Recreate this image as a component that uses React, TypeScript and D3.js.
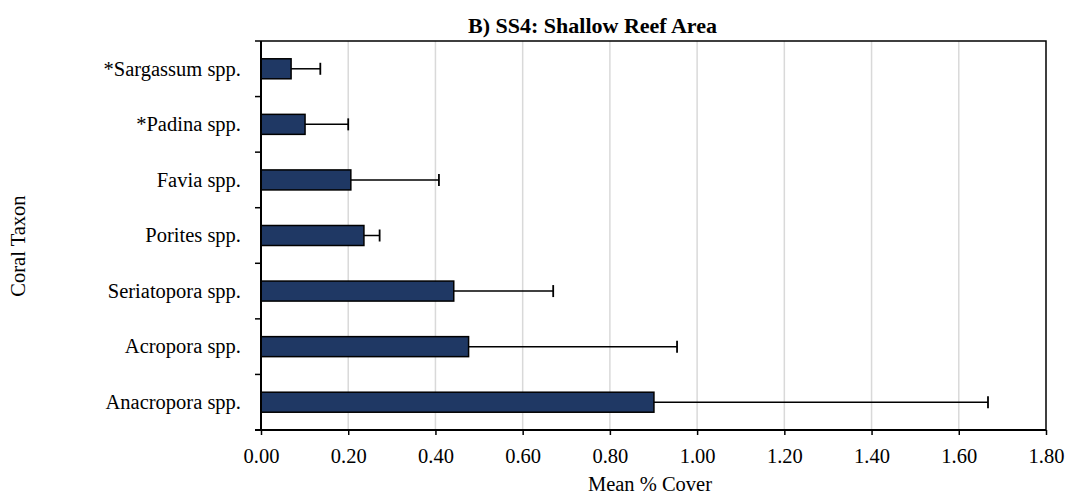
import React, { useEffect, useRef } from "react";
import * as d3 from "d3";

// bottom to top, as in the chart
const TAXA = [
  "Anacropora spp.",
  "Acropora spp.",
  "Seriatopora spp.",
  "Porites spp.",
  "Favia spp.",
  "*Padina spp.",
  "*Sargassum spp.",
];
const MEAN_COVER = [0.901, 0.476, 0.442, 0.236, 0.206, 0.101, 0.069];
const ERROR = [0.766, 0.478, 0.228, 0.036, 0.202, 0.099, 0.067];
const X_TICKS = [0, 0.2, 0.4, 0.6, 0.8, 1.0, 1.2, 1.4, 1.6, 1.8];

const FONT = "'Liberation Serif', 'Times New Roman', serif";
const BAR_COLOR = "#1f3864";

function renderChart(svgEl: SVGSVGElement) {
  const svg = d3.select(svgEl);
  svg.selectAll("*").remove();

  const width = 1068;
  const height = 499;
  const margin = { top: 41, right: 22, bottom: 69, left: 261 };
  const w = width - margin.left - margin.right;
  const h = height - margin.top - margin.bottom;

  svg.attr("width", width).attr("height", height);

  const g = svg.append("g").attr("transform", `translate(${margin.left},${margin.top})`);

  const x = d3.scaleLinear().domain([0, 1.8]).range([0, w]);
  const y = d3
    .scaleBand<string>()
    .domain(TAXA.slice().reverse())
    .range([0, h])
    .paddingInner(0.64)
    .paddingOuter(0.32);
  const step = y.step();

  // Grid
  g.append("g")
    .selectAll("line")
    .data(X_TICKS.filter((d) => d > 0 && d < 1.8))
    .join("line")
    .attr("x1", (d) => x(d))
    .attr("x2", (d) => x(d))
    .attr("y1", 0)
    .attr("y2", h)
    .attr("stroke", "#d9d9d9")
    .attr("stroke-width", 1.5);

  // Plot border (top + right)
  g.append("path")
    .attr("d", `M0,0H${w}V${h}`)
    .attr("fill", "none")
    .attr("stroke", "#000")
    .attr("stroke-width", 1.5);

  // Bars with error whiskers
  TAXA.forEach((name, i) => {
    const yc = y(name)! + y.bandwidth() / 2;
    g.append("rect")
      .attr("x", x(0))
      .attr("y", y(name)!)
      .attr("width", x(MEAN_COVER[i]) - x(0))
      .attr("height", y.bandwidth())
      .attr("fill", BAR_COLOR)
      .attr("stroke", "#000")
      .attr("stroke-width", 1.5);

    const xe = x(MEAN_COVER[i] + ERROR[i]);
    g.append("line")
      .attr("x1", x(MEAN_COVER[i]))
      .attr("x2", xe)
      .attr("y1", yc)
      .attr("y2", yc)
      .attr("stroke", "#000")
      .attr("stroke-width", 1.5);
    g.append("line")
      .attr("x1", xe)
      .attr("x2", xe)
      .attr("y1", yc - 6)
      .attr("y2", yc + 6)
      .attr("stroke", "#000")
      .attr("stroke-width", 1.8);
  });

  // X axis
  const xAxis = g
    .append("g")
    .attr("transform", `translate(0,${h})`)
    .call(
      d3
        .axisBottom(x)
        .tickValues(X_TICKS)
        .tickFormat((d) => d3.format(".2f")(d as number))
        .tickSizeInner(5)
        .tickSizeOuter(0)
        .tickPadding(13)
    );
  xAxis.select(".domain").attr("stroke", "#000").attr("stroke-width", 2).attr("d", `M-6,0H${w}`);
  xAxis.selectAll(".tick line").attr("stroke", "#000").attr("stroke-width", 1.5);
  xAxis
    .selectAll("text")
    .attr("font-family", FONT)
    .attr("font-size", "20.5px")
    .attr("fill", "#000");

  // Y axis: line with ticks at category boundaries
  g.append("line")
    .attr("x1", 0)
    .attr("x2", 0)
    .attr("y1", 0)
    .attr("y2", h)
    .attr("stroke", "#000")
    .attr("stroke-width", 2);
  g.append("g")
    .selectAll("line")
    .data(d3.range(TAXA.length + 1))
    .join("line")
    .attr("x1", -6)
    .attr("x2", 0)
    .attr("y1", (d) => d * step)
    .attr("y2", (d) => d * step)
    .attr("stroke", "#000")
    .attr("stroke-width", 1.5);

  g.append("g")
    .selectAll("text")
    .data(TAXA)
    .join("text")
    .attr("x", -20)
    .attr("y", (d) => y(d)! + y.bandwidth() / 2)
    .attr("dy", "0.33em")
    .attr("text-anchor", "end")
    .attr("font-family", FONT)
    .attr("font-size", "20.5px")
    .attr("fill", "#000")
    .text((d) => d);

  // Titles
  svg
    .append("text")
    .attr("x", 468)
    .attr("y", 33)
    .attr("font-family", FONT)
    .attr("font-weight", "bold")
    .attr("font-size", "22px")
    .attr("fill", "#000")
    .text("B) SS4: Shallow Reef Area");

  svg
    .append("text")
    .attr("x", 650)
    .attr("y", 491)
    .attr("text-anchor", "middle")
    .attr("font-family", FONT)
    .attr("font-size", "20.5px")
    .attr("fill", "#000")
    .text("Mean % Cover");

  svg
    .append("text")
    .attr("transform", `translate(25,246) rotate(-90)`)
    .attr("text-anchor", "middle")
    .attr("font-family", FONT)
    .attr("font-size", "20.5px")
    .attr("fill", "#000")
    .text("Coral Taxon");
}

export default function App() {
  const svgRef = useRef<SVGSVGElement>(null);

  useEffect(() => {
    if (svgRef.current) renderChart(svgRef.current);
  }, []);

  return (
    <div style={{ position: "fixed", left: 0, top: 0, width: 1068, height: 499, background: "#fff" }}>
      <svg ref={svgRef} style={{ display: "block" }} />
    </div>
  );
}
